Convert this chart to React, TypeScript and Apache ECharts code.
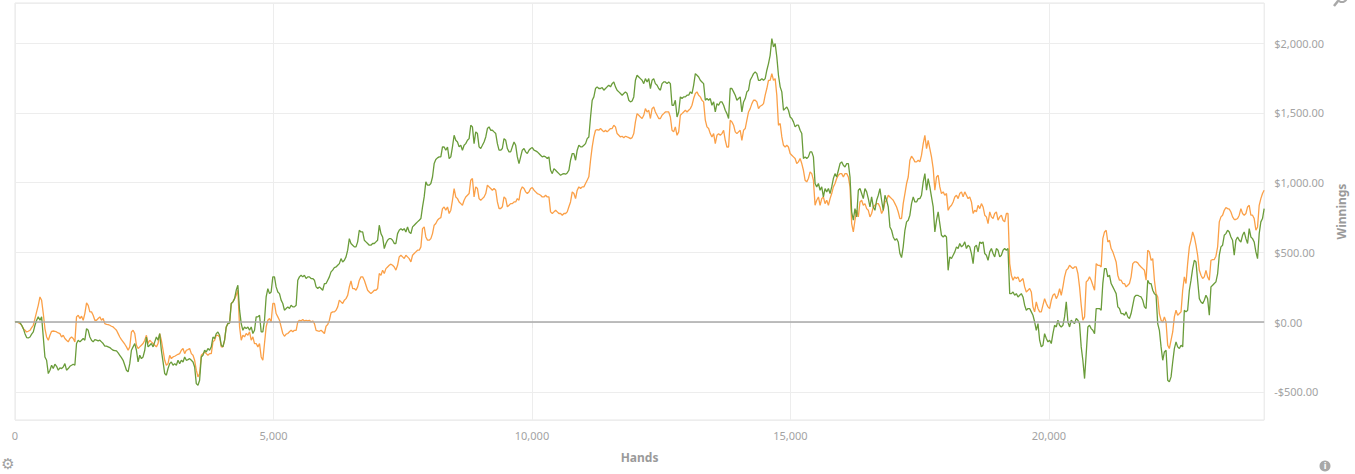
import React, { useEffect, useRef } from "react";
import * as echarts from "echarts";

// Hands at which the two running totals were sampled
const HANDS = [
  0,32,64,97,129,161,193,225,257,290,
  322,354,386,418,450,483,515,547,579,611,
  644,676,708,740,772,804,837,869,901,933,
  965,997,1030,1062,1094,1126,1158,1190,1223,1255,
  1287,1319,1351,1384,1416,1448,1480,1512,1544,1577,
  1609,1641,1673,1705,1737,1770,1802,1834,1866,1898,
  1931,1963,1995,2027,2059,2091,2124,2156,2188,2220,
  2252,2284,2317,2349,2381,2413,2445,2477,2510,2542,
  2574,2606,2638,2671,2703,2735,2767,2799,2831,2864,
  2896,2928,2960,2992,3024,3057,3089,3121,3153,3185,
  3218,3250,3282,3314,3346,3378,3411,3443,3475,3507,
  3539,3571,3604,3636,3668,3700,3732,3764,3797,3829,
  3861,3893,3925,3958,3990,4022,4054,4086,4118,4151,
  4183,4215,4247,4279,4311,4344,4376,4408,4440,4472,
  4505,4537,4569,4601,4633,4665,4698,4730,4762,4794,
  4826,4858,4891,4923,4955,4987,5019,5051,5084,5116,
  5148,5180,5212,5245,5277,5309,5341,5373,5405,5438,
  5470,5502,5534,5566,5598,5631,5663,5695,5727,5759,
  5792,5824,5856,5888,5920,5952,5985,6017,6049,6081,
  6113,6145,6178,6210,6242,6274,6306,6338,6371,6403,
  6435,6467,6499,6532,6564,6596,6628,6660,6692,6725,
  6757,6789,6821,6853,6885,6918,6950,6982,7014,7046,
  7079,7111,7143,7175,7207,7239,7272,7304,7336,7368,
  7400,7432,7465,7497,7529,7561,7593,7625,7658,7690,
  7722,7754,7786,7819,7851,7883,7915,7947,7979,8012,
  8044,8076,8108,8140,8172,8205,8237,8269,8301,8333,
  8366,8398,8430,8462,8494,8526,8559,8591,8623,8655,
  8687,8719,8752,8784,8816,8848,8880,8912,8945,8977,
  9009,9041,9073,9106,9138,9170,9202,9234,9266,9299,
  9331,9363,9395,9427,9459,9492,9524,9556,9588,9620,
  9653,9685,9717,9749,9781,9813,9846,9878,9910,9942,
  9974,10006,10039,10071,10103,10135,10167,10199,10232,10264,
  10296,10328,10360,10393,10425,10457,10489,10521,10553,10586,
  10618,10650,10682,10714,10746,10779,10811,10843,10875,10907,
  10940,10972,11004,11036,11068,11100,11133,11165,11197,11229,
  11261,11293,11326,11358,11390,11422,11454,11486,11519,11551,
  11583,11615,11647,11680,11712,11744,11776,11808,11840,11873,
  11905,11937,11969,12001,12033,12066,12098,12130,12162,12194,
  12227,12259,12291,12323,12355,12387,12420,12452,12484,12516,
  12548,12580,12613,12645,12677,12709,12741,12773,12806,12838,
  12870,12902,12934,12967,12999,13031,13063,13095,13127,13160,
  13192,13224,13256,13288,13320,13353,13385,13417,13449,13481,
  13514,13546,13578,13610,13642,13674,13707,13739,13771,13803,
  13835,13867,13900,13932,13964,13996,14028,14060,14093,14125,
  14157,14189,14221,14254,14286,14318,14350,14382,14414,14447,
  14479,14511,14543,14575,14607,14640,14672,14704,14736,14768,
  14801,14833,14865,14897,14929,14961,14994,15026,15058,15090,
  15122,15154,15187,15219,15251,15283,15315,15347,15380,15412,
  15444,15476,15508,15541,15573,15605,15637,15669,15701,15734,
  15766,15798,15830,15862,15894,15927,15959,15991,16023,16055,
  16088,16120,16152,16184,16216,16248,16281,16313,16345,16377,
  16409,16441,16474,16506,16538,16570,16602,16634,16667,16699,
  16731,16763,16795,16828,16860,16892,16924,16956,16988,17021,
  17053,17085,17117,17149,17181,17214,17246,17278,17310,17342,
  17375,17407,17439,17471,17503,17535,17568,17600,17632,17664,
  17696,17728,17761,17793,17825,17857,17889,17921,17954,17986,
  18018,18050,18082,18115,18147,18179,18211,18243,18275,18308,
  18340,18372,18404,18436,18468,18501,18533,18565,18597,18629,
  18662,18694,18726,18758,18790,18822,18855,18887,18919,18951,
  18983,19015,19048,19080,19112,19144,19176,19208,19241,19273,
  19305,19337,19369,19402,19434,19466,19498,19530,19562,19595,
  19627,19659,19691,19723,19755,19788,19820,19852,19884,19916,
  19949,19981,20013,20045,20077,20109,20142,20174,20206,20238,
  20270,20302,20335,20367,20399,20431,20463,20495,20528,20560,
  20592,20624,20656,20689,20721,20753,20785,20817,20849,20882,
  20914,20946,20978,21010,21042,21075,21107,21139,21171,21203,
  21236,21268,21300,21332,21364,21396,21429,21461,21493,21525,
  21557,21589,21622,21654,21686,21718,21750,21782,21815,21847,
  21879,21911,21943,21976,22008,22040,22072,22104,22136,22169,
  22201,22233,22265,22297,22329,22362,22394,22426,22458,22490,
  22523,22555,22587,22619,22651,22683,22716,22748,22780,22812,
  22844,22876,22909,22941,22973,23005,23037,23069,23102,23134,
  23166,23198,23230,23263,23295,23327,23359,23391,23423,23456,
  23488,23520,23552,23584,23616,23649,23681,23713,23745,23777,
  23810,23842,23874,23906,23938,23970,24003,24035,24067,24099,
  24131,24163,
];

// Green line: net winnings ($)
const NET_WON = [
  0,3,1,-4,-23,-47,-83,-111,-114,-107,
  -87,-71,-23,13,37,13,37,-107,-250,-274,
  -369,-345,-310,-333,-302,-317,-345,-329,-333,-322,
  -298,-345,-333,-317,-310,-302,-310,-154,-130,-142,
  -130,-118,-130,-47,-59,-107,-130,-142,-126,-130,
  -135,-130,-142,-154,-173,-173,-178,-183,-193,-202,
  -204,-207,-221,-238,-255,-274,-310,-345,-357,-298,
  -202,-178,-154,-202,-286,-238,-262,-250,-202,-107,
  -178,-166,-154,-178,-142,-107,-130,-83,-202,-286,
  -369,-381,-333,-298,-286,-310,-298,-310,-274,-298,
  -274,-286,-250,-274,-269,-262,-274,-286,-322,-441,
  -453,-417,-250,-238,-202,-214,-190,-202,-178,-107,
  -118,-83,-71,-95,-166,-178,-130,-35,-11,-6,
  133,145,168,228,264,85,-11,-59,-35,-47,
  -35,-59,-35,-82,-59,37,37,49,-70,-70,
  13,180,240,204,216,324,324,252,216,204,
  157,133,85,97,109,97,121,109,109,121,
  300,324,336,324,336,312,324,324,312,312,
  300,252,240,252,240,228,276,276,300,324,
  360,372,391,395,407,419,455,431,443,467,
  515,598,563,551,539,539,575,658,646,646,
  587,575,563,551,551,563,563,575,587,694,
  634,610,527,563,587,598,598,587,563,563,
  634,658,670,658,670,646,682,646,634,682,
  694,706,718,730,742,825,897,1005,981,981,
  993,1040,1136,1165,1177,1184,1184,1255,1255,1232,
  1255,1172,1184,1256,1339,1303,1291,1256,1267,1232,
  1267,1279,1303,1315,1411,1399,1279,1363,1351,1256,
  1244,1267,1291,1327,1387,1399,1375,1375,1363,1351,
  1279,1232,1232,1244,1315,1303,1244,1220,1220,1256,
  1291,1267,1184,1136,1184,1232,1244,1220,1208,1232,
  1244,1251,1232,1227,1220,1208,1196,1184,1189,1184,
  1172,1184,1088,1064,1100,1088,1076,1064,1052,1060,
  1064,1060,1069,1088,1160,1208,1208,1160,1232,1267,
  1256,1256,1267,1279,1315,1327,1470,1590,1614,1674,
  1686,1674,1674,1681,1662,1674,1686,1697,1686,1709,
  1721,1686,1662,1650,1638,1626,1638,1650,1638,1590,
  1578,1585,1614,1733,1769,1757,1745,1733,1709,1745,
  1721,1745,1674,1733,1745,1709,1697,1674,1662,1709,
  1721,1721,1709,1721,1709,1554,1554,1590,1470,1506,
  1614,1602,1614,1614,1626,1626,1650,1638,1697,1781,
  1769,1757,1733,1721,1709,1590,1602,1590,1602,1554,
  1578,1506,1566,1554,1578,1578,1554,1518,1494,1459,
  1674,1674,1650,1626,1590,1602,1614,1506,1578,1602,
  1650,1662,1733,1757,1781,1793,1781,1733,1733,1745,
  1733,1745,1805,1853,1912,2032,1972,1996,1901,1769,
  1686,1650,1518,1530,1542,1518,1470,1459,1435,1399,
  1411,1411,1375,1351,1172,1184,1172,1184,1220,1220,
  1184,993,969,993,945,969,897,957,933,957,
  921,969,1029,1064,1040,1088,1136,1148,1124,1112,
  1136,1136,1040,790,730,813,754,945,957,921,
  885,957,933,885,825,897,825,801,873,909,
  957,873,801,909,873,825,682,658,610,586,
  598,574,491,462,539,658,718,730,766,849,
  897,861,861,885,885,909,1005,1064,945,1028,
  969,897,825,646,730,790,706,622,610,622,
  610,371,467,455,479,503,539,527,563,539,
  551,575,527,551,539,491,419,539,551,503,
  575,563,575,491,479,443,503,527,491,467,
  527,515,467,479,515,527,515,527,204,204,
  216,192,204,180,192,204,180,121,85,97,
  97,73,49,1,-59,-11,-130,-178,-166,-83,
  -118,-142,-130,-154,-83,-23,-35,13,-23,-35,
  -23,37,145,1,-35,13,1,-11,25,13,
  -11,-178,-274,-405,-226,-35,-23,-47,-59,-83,
  97,97,97,85,276,383,383,324,336,276,
  252,228,204,109,97,61,61,49,73,37,
  25,61,121,180,192,192,185,180,156,109,
  97,300,276,276,228,204,192,-11,-59,-178,
  -274,-214,-202,-417,-429,-393,-286,-190,-142,-178,
  -190,-166,-178,85,73,85,228,300,383,443,
  431,300,168,144,132,156,192,168,49,252,
  264,276,288,348,479,539,551,622,634,658,
  646,610,586,479,586,610,586,574,622,646,
  598,563,670,610,598,574,503,455,634,718,
  742,813,
];

// Orange line: all-in adjusted winnings ($)
const ALLIN_ADJ = [
  0,3,-4,-11,-23,-47,-59,-71,-66,-59,
  -40,-23,25,73,120,180,156,61,-47,-107,
  -130,-95,-66,-64,-66,-71,-78,-83,-107,-95,
  -118,-130,-142,-118,-107,-118,-142,37,49,25,
  42,13,61,137,120,73,73,49,13,13,
  25,37,13,25,-11,-16,-18,-23,-30,-35,
  -47,-59,-83,-107,-126,-142,-159,-178,-202,-178,
  -71,-59,-83,-166,-190,-178,-166,-154,-130,-95,
  -154,-130,-142,-154,-166,-178,-154,-83,-130,-202,
  -274,-310,-298,-238,-262,-250,-245,-238,-231,-226,
  -202,-190,-226,-202,-197,-190,-226,-238,-274,-345,
  -393,-369,-238,-226,-214,-226,-238,-226,-226,-142,
  -130,-95,-95,-107,-178,-178,-130,-35,-11,-6,
  133,145,168,192,228,-35,-130,-94,-106,-82,
  -94,-70,-130,-106,-154,-154,-178,-154,-250,-274,
  -154,-35,13,25,1,133,133,61,37,13,
  -35,-82,-102,-87,-82,-70,-59,-70,-59,-59,
  1,13,8,18,8,13,8,13,1,8,
  -11,-59,-63,-66,-59,-70,-82,-30,-18,13,
  66,73,73,85,109,157,145,133,157,168,
  192,252,295,240,240,228,252,300,324,324,
  300,264,228,216,204,216,228,228,240,348,
  336,372,348,383,395,407,415,407,395,372,
  407,467,479,467,455,479,467,455,431,479,
  491,503,515,515,539,670,682,610,587,587,
  598,634,694,706,730,742,749,813,825,802,
  825,778,802,873,957,897,885,861,849,837,
  873,897,909,921,1017,1029,897,969,957,885,
  873,885,897,921,981,969,957,945,957,945,
  861,814,814,826,897,885,826,837,849,849,
  861,861,885,873,945,969,957,933,921,933,
  957,964,945,933,921,916,909,897,897,909,
  897,897,790,778,790,802,790,778,778,766,
  778,778,790,826,861,933,921,885,945,969,
  957,969,969,993,1017,1041,1160,1256,1327,1375,
  1380,1375,1387,1375,1363,1375,1363,1375,1387,1387,
  1411,1399,1351,1339,1327,1332,1322,1332,1327,1322,
  1315,1322,1351,1435,1494,1482,1470,1459,1482,1530,
  1506,1518,1459,1530,1542,1506,1482,1459,1459,1482,
  1494,1506,1506,1506,1470,1375,1363,1399,1339,1363,
  1482,1494,1506,1518,1506,1518,1530,1554,1602,1638,
  1650,1626,1614,1590,1578,1447,1399,1387,1351,1327,
  1351,1279,1339,1351,1339,1351,1375,1303,1255,1255,
  1447,1435,1411,1363,1351,1363,1375,1303,1375,1387,
  1447,1506,1530,1566,1590,1590,1578,1530,1547,1554,
  1566,1626,1674,1733,1733,1781,1733,1745,1626,1411,
  1423,1327,1267,1255,1267,1255,1208,1196,1184,1172,
  1136,1148,1172,1136,1088,1017,1005,1029,1076,1064,
  1017,837,873,897,837,885,897,849,873,837,
  885,921,969,993,1029,1052,1064,1064,1040,1064,
  1064,1040,969,706,646,730,802,754,861,873,
  837,849,813,801,754,778,825,837,849,849,
  825,778,801,861,873,909,897,885,873,849,
  825,789,742,742,849,921,993,1040,1160,1189,
  1172,1148,1148,1160,1148,1196,1279,1339,1243,1303,
  1243,1184,1100,945,1040,1052,969,921,933,909,
  921,801,825,837,861,897,909,885,921,933,
  897,933,909,885,897,861,778,801,790,837,
  813,849,825,766,754,706,790,754,742,778,
  790,730,754,766,730,718,778,778,419,336,
  300,324,312,324,288,300,312,252,216,228,
  240,216,109,73,145,97,73,73,121,168,
  133,109,97,156,192,204,168,192,240,192,
  252,324,371,383,407,395,383,395,395,348,
  252,121,13,37,288,300,324,300,264,228,
  419,407,407,395,598,646,658,574,586,527,
  503,467,431,336,300,300,276,276,252,264,
  276,324,419,431,431,424,407,395,383,371,
  300,515,503,443,455,300,204,180,61,13,
  1,37,1,-166,-190,-130,-71,37,85,49,
  61,73,228,324,276,419,539,586,646,610,
  551,479,371,336,312,324,371,324,300,443,
  448,448,472,539,718,754,766,801,821,813,
  809,789,754,735,735,742,766,813,778,766,
  778,825,837,766,766,742,658,682,837,885,
  921,945,
];

const X_MIN = 0;
const X_MAX = 24163;
const X_INTERVAL = 5000;
const Y_MIN = -702;
const Y_MAX = 2287;

const FONT = '"Noto Sans", "Open Sans", sans-serif';

const withCommas = (n: number) =>
  String(Math.round(Math.abs(n))).replace(/\B(?=(\d{3})+(?!\d))/g, ",");

const money = (v: number) => (v < 0 ? "-$" : "$") + withCommas(v) + ".00";

export default function App() {
  const ref = useRef<HTMLDivElement>(null);

  useEffect(() => {
    if (!ref.current) return;
    const chart = echarts.init(ref.current, undefined, { renderer: "svg" });

    const green = HANDS.map((h, i) => [h, NET_WON[i]]);
    const orange = HANDS.map((h, i) => [h, ALLIN_ADJ[i]]);

    chart.setOption({
      animation: false,
      backgroundColor: "#ffffff",
      grid: {
        left: 15,
        right: 88,
        top: 3,
        bottom: 54,
        show: true,
        borderColor: "#e6e6e6",
        borderWidth: 1,
        backgroundColor: "transparent",
      },
      xAxis: {
        type: "value",
        min: X_MIN,
        max: X_MAX,
        interval: X_INTERVAL,
        name: "Hands",
        nameLocation: "middle",
        nameGap: 31,
        nameTextStyle: { color: "#9a9a9a", fontWeight: "bold", fontSize: 12, fontFamily: FONT },
        axisLine: { show: false },
        axisTick: { show: true, length: 6, lineStyle: { color: "#e6e6e6" } },
        axisLabel: {
          color: "#a3a3a3",
          fontSize: 11,
          fontFamily: FONT,
          margin: 10,
          showMaxLabel: false,
          formatter: (v: number) => withCommas(v),
        },
        splitLine: { show: true, lineStyle: { color: "#ededed", width: 1 } },
      },
      yAxis: {
        type: "value",
        position: "right",
        min: Y_MIN,
        max: Y_MAX,
        splitNumber: 5,
        name: "Winnings",
        nameLocation: "middle",
        nameRotate: 90,
        nameGap: 53,
        nameTextStyle: { color: "#9a9a9a", fontWeight: "bold", fontSize: 12, fontFamily: FONT },
        axisLine: { show: false },
        axisTick: { show: false },
        axisLabel: {
          color: "#a3a3a3",
          fontSize: 11,
          fontFamily: FONT,
          margin: 10,
          showMinLabel: false,
          showMaxLabel: false,
          formatter: (v: number) => money(v),
        },
        splitLine: { show: true, lineStyle: { color: "#ededed", width: 1 } },
      },
      series: [
        {
          name: "All-in adjusted",
          type: "line",
          data: orange,
          showSymbol: false,
          symbol: "none",
          lineStyle: { color: "#fba048", width: 1.3 },
          itemStyle: { color: "#fba048" },
          markLine: {
            silent: true,
            symbol: ["none", "none"],
            label: { show: false },
            lineStyle: { color: "#a8a8a8", width: 1.5, type: "solid" },
            data: [{ yAxis: 0 }],
          },
        },
        {
          name: "Net won",
          type: "line",
          data: green,
          showSymbol: false,
          symbol: "none",
          lineStyle: { color: "#6a9c3a", width: 1.3 },
          itemStyle: { color: "#6a9c3a" },
        },
      ],
      graphic: [
        {
          type: "text",
          x: 8,
          y: 464,
          style: {
            text: "\u2699",
            font: '15px "DejaVu Sans"',
            fill: "#a0a0a0",
            align: "center",
            verticalAlign: "middle",
          },
        },
        { type: "circle", shape: { cx: 1325, cy: 466, r: 5.5 }, style: { fill: "#a8a8a8" } },
        {
          type: "text",
          x: 1325,
          y: 466.5,
          style: {
            text: "i",
            font: 'bold 8px "DejaVu Sans"',
            fill: "#ffffff",
            align: "center",
            verticalAlign: "middle",
          },
        },
        {
          type: "circle",
          shape: { cx: 1342, cy: -3, r: 5 },
          style: { fill: "none", stroke: "#a8a8a8", lineWidth: 2 },
        },
        {
          type: "line",
          shape: { x1: 1338, y1: 1, x2: 1334, y2: 6 },
          style: { stroke: "#a8a8a8", lineWidth: 2.5 },
        },
      ],
    });

    return () => chart.dispose();
  }, []);

  return (
    <div
      ref={ref}
      style={{ position: "fixed", left: 0, top: 0, width: 1355, height: 474, background: "#fff" }}
    />
  );
}
